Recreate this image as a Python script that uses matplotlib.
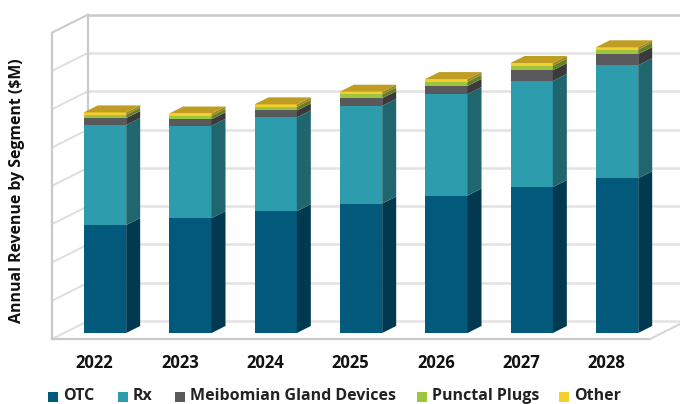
import matplotlib
matplotlib.use('Agg')
import matplotlib.pyplot as plt
from matplotlib.patches import Polygon, Rectangle

plt.rcParams['font.family'] = ['Open Sans', 'DejaVu Sans']

years = ['2022', '2023', '2024', '2025', '2026', '2027', '2028']
otc = [282, 300, 318, 338, 359, 381, 404]
rx = [261, 241, 245, 255, 265, 277, 295]
meibomian = [18, 17, 18, 20, 21, 28, 29]
punctal = [9, 9, 10, 10, 11, 12, 12]
other = [6, 6, 6, 7, 7, 7, 6]

segments = ['OTC', 'Rx', 'Meibomian Gland Devices', 'Punctal Plugs', 'Other']
series = [otc, rx, meibomian, punctal, other]
front_cols = ['#015a7c', '#2d9cac', '#59595b', '#9dc53f', '#f5cf2f']
side_cols = ['#013a50', '#1f666f', '#3a3a3c', '#66802a', '#a08a20']
top_col = '#bf9c22'
grid_vals = [0, 100, 200, 300, 400, 500, 600, 700, 800]

W, H = 680, 404
fig = plt.figure(figsize=(W / 100, H / 100), dpi=100)
ax = fig.add_axes([0, 0, 1, 1])
ax.set_xlim(-1.2305, 6.738)
ax.set_ylim(-185.4, 869.5)
ax.axis('off')

# one unit of depth = the bar depth, 14px right and 7px up
dx = 0.164
dy = 18.3
bar_w = 0.496
front_d = -0.857
back_d = 1.71
x_left = -0.48
x_right = 6.528
label_shift = -0.123


def proj(x, v, d):
    return x + d * dx, v + d * dy


# walls and floor
for v in grid_vals:
    col = '#c9c9c9' if v == 800 else '#e3e3e3'
    a = proj(x_left, v, back_d)
    b = proj(x_right, v, back_d)
    ax.plot([a[0], b[0]], [a[1], b[1]], color=col, lw=1.8, zorder=1, solid_capstyle='butt')
    c = proj(x_left, v, front_d)
    ax.plot([c[0], a[0]], [c[1], a[1]], color=col if v == 800 else '#dedede', lw=1.4, zorder=1)

a = proj(x_left, 0, back_d)
b = proj(x_left, 800, back_d)
ax.plot([a[0], b[0]], [a[1], b[1]], color='#c9c9c9', lw=1.6, zorder=2)
a = proj(x_left, 0, front_d)
b = proj(x_left, 800, front_d)
ax.plot([a[0], b[0]], [a[1], b[1]], color='#c9c9c9', lw=1.6, zorder=2)
c = proj(x_right, 0, front_d)
ax.plot([a[0], c[0]], [a[1], c[1]], color='#c9c9c9', lw=1.6, zorder=2)
e = proj(x_right, 0, back_d)
ax.plot([c[0], e[0]], [c[1], e[1]], color='#d4d4d4', lw=1.4, zorder=2)

# stacked bars
for i in range(len(years)):
    x0 = i - bar_w / 2
    x1 = i + bar_w / 2
    base = 0
    for s in range(len(series)):
        v = series[s][i]
        ax.add_patch(Rectangle((x0, base), bar_w, v, fc=front_cols[s], ec='none', zorder=3))
        ax.add_patch(Polygon([(x1, base), proj(x1, base, 1), proj(x1, base + v, 1), (x1, base + v)],
                             fc=side_cols[s], ec='none', zorder=3))
        base += v
    ax.add_patch(Polygon([(x0, base), (x1, base), proj(x1, base, 1), proj(x0, base, 1)],
                         fc=top_col, ec='none', zorder=3))
    ax.text(i + label_shift, -78, years[i], ha='center', va='center', fontsize=12, fontweight='bold',
            color='#111111')

ax.text(17 / W, 1 - 190.5 / H, 'Annual Revenue by Segment ($M)', transform=ax.transAxes, rotation=90,
        ha='center', va='center', fontsize=11.4, fontweight='bold', color='#111111')

# legend placed by hand
leg_x = [48, 118, 175, 417, 559]
for lx, name, col in zip(leg_x, segments, front_cols):
    ax.add_patch(Rectangle((lx / W, 1 - 402 / H), 10 / W, 10 / H, transform=ax.transAxes,
                           fc=col, ec='none', clip_on=False, zorder=4))
    ax.text((lx + 15) / W, 1 - 396.5 / H, name, transform=ax.transAxes, ha='left', va='center',
            fontsize=11.5, fontweight='bold', color='#222222')

fig.savefig('out.png', dpi=100)
